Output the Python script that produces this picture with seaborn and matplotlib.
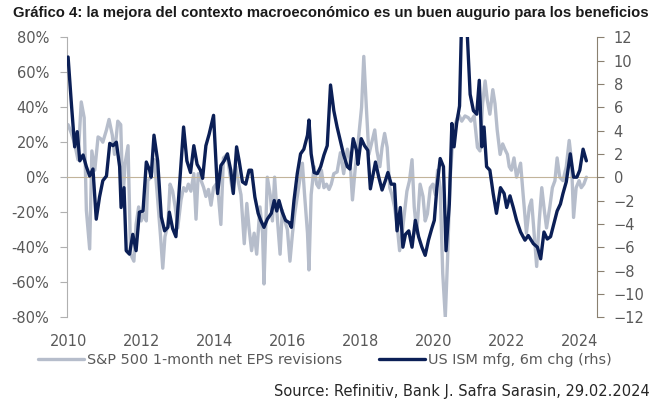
import numpy as np
import pandas as pd
import seaborn as sns
import matplotlib.pyplot as plt

# valeurs (années décimales)
eps_year = [2010.00, 2010.09, 2010.18, 2010.27, 2010.36, 2010.44, 2010.50, 2010.59, 2010.65, 2010.73,
            2010.82, 2010.89, 2010.95, 2011.05, 2011.12, 2011.21, 2011.27, 2011.36, 2011.44, 2011.50,
            2011.56, 2011.64, 2011.71, 2011.80, 2011.86, 2011.93, 2012.00, 2012.07, 2012.14, 2012.18,
            2012.27, 2012.36, 2012.44, 2012.53, 2012.59, 2012.65, 2012.73, 2012.79, 2012.86, 2012.93,
            2013.00, 2013.09, 2013.16, 2013.23, 2013.29, 2013.36, 2013.44, 2013.50, 2013.56, 2013.64,
            2013.71, 2013.77, 2013.84, 2013.91, 2013.98, 2014.05, 2014.11, 2014.18, 2014.25, 2014.35,
            2014.44, 2014.50, 2014.59, 2014.65, 2014.73, 2014.82, 2014.89, 2014.95, 2015.02, 2015.09,
            2015.16, 2015.25, 2015.32, 2015.36, 2015.45, 2015.53, 2015.59, 2015.65, 2015.73, 2015.80,
            2015.86, 2015.93, 2016.00, 2016.07, 2016.14, 2016.20, 2016.27, 2016.35, 2016.41, 2016.47,
            2016.55, 2016.59, 2016.65, 2016.73, 2016.80, 2016.86, 2016.93, 2017.00, 2017.07, 2017.14,
            2017.20, 2017.27, 2017.36, 2017.45, 2017.54, 2017.64, 2017.71, 2017.78, 2017.86, 2017.95,
            2018.03, 2018.09, 2018.16, 2018.23, 2018.32, 2018.39, 2018.45, 2018.53, 2018.59, 2018.66,
            2018.73, 2018.80, 2018.86, 2018.93, 2019.00, 2019.07, 2019.14, 2019.20, 2019.27, 2019.34,
            2019.41, 2019.47, 2019.54, 2019.63, 2019.71, 2019.77, 2019.83, 2019.91, 2019.98, 2020.05,
            2020.11, 2020.18, 2020.25, 2020.32, 2020.38, 2020.45, 2020.53, 2020.59, 2020.68, 2020.77,
            2020.86, 2020.95, 2021.02, 2021.11, 2021.20, 2021.27, 2021.34, 2021.41, 2021.47, 2021.54,
            2021.62, 2021.68, 2021.74, 2021.82, 2021.89, 2021.95, 2022.02, 2022.07, 2022.13, 2022.20,
            2022.27, 2022.38, 2022.45, 2022.54, 2022.62, 2022.68, 2022.74, 2022.82, 2022.89, 2022.96,
            2023.03, 2023.09, 2023.18, 2023.25, 2023.32, 2023.38, 2023.45, 2023.54, 2023.63, 2023.71,
            2023.77, 2023.83, 2023.90, 2023.98, 2024.04, 2024.11, 2024.18]
eps_rev = [30, 25, 19, 10, 43, 34, -19, -41, 15, 4,
           23, 22, 20, 27, 33, 24, 13, 32, 30, -13,
           8, 18, -44, -48, -27, -17, -25, -21, -25, -2,
           0, 10, -10, -34, -52, -34, -27, -4, -8, -17,
           -29, -13, -6, -8, -4, -8, 2, -24, 2, -2,
           -6, -11, -7, -16, -6, -4, -10, -27, 11, 13,
           0, -8, 6, -2, -10, -38, -15, -29, -42, -32,
           -44, -17, -32, -61, 0, -10, -25, 0, -25, -44,
           -19, -25, -30, -48, -32, -21, -11, 0, 8, -10,
           -32, -53, -10, 6, -4, -6, 4, -6, -4, -7,
           -4, 2, 3, 14, 2, 16, 11, -13, 6, 23,
           40, 69, 40, 13, 21, 27, 15, 6, 17, 25,
           17, -6, -10, -17, -27, -42, -32, -21, -8, -2,
           10, -17, -32, -4, -11, -25, -21, -6, -4, -10,
           4, -6, -55, -80, -48, -2, 23, 30, 36, 32,
           35, 34, 32, 35, 17, 15, 42, 55, 44, 36,
           50, 42, 27, 13, 19, 16, 13, 6, 4, 11,
           0, 8, -10, -32, -17, -13, -29, -51, -25, -6,
           -19, -29, -17, -6, -2, 11, 0, -2, 6, 21,
           10, -23, -6, -2, -6, -4, 0]

ism_year = [2010.00, 2010.09, 2010.18, 2010.25, 2010.32, 2010.41, 2010.50, 2010.59, 2010.68, 2010.77,
            2010.86, 2010.95, 2011.05, 2011.14, 2011.23, 2011.32, 2011.41, 2011.45, 2011.53, 2011.59,
            2011.68, 2011.77, 2011.86, 2011.95, 2012.05, 2012.14, 2012.23, 2012.27, 2012.35, 2012.45,
            2012.55, 2012.64, 2012.73, 2012.77, 2012.86, 2012.95, 2013.05, 2013.16, 2013.25, 2013.35,
            2013.44, 2013.53, 2013.62, 2013.68, 2013.77, 2013.86, 2013.98, 2014.09, 2014.18, 2014.27,
            2014.36, 2014.45, 2014.52, 2014.61, 2014.68, 2014.77, 2014.86, 2014.95, 2015.02, 2015.11,
            2015.20, 2015.27, 2015.36, 2015.45, 2015.56, 2015.64, 2015.71, 2015.77, 2015.86, 2015.95,
            2016.05, 2016.11, 2016.18, 2016.27, 2016.36, 2016.45, 2016.55, 2016.59, 2016.65, 2016.73,
            2016.82, 2016.91, 2017.00, 2017.09, 2017.18, 2017.27, 2017.36, 2017.45, 2017.54, 2017.64,
            2017.71, 2017.80, 2017.89, 2017.93, 2018.02, 2018.11, 2018.20, 2018.27, 2018.41, 2018.50,
            2018.59, 2018.68, 2018.75, 2018.84, 2018.93, 2019.00, 2019.09, 2019.16, 2019.23, 2019.32,
            2019.41, 2019.50, 2019.59, 2019.68, 2019.77, 2019.86, 2019.95, 2020.02, 2020.09, 2020.18,
            2020.27, 2020.34, 2020.43, 2020.50, 2020.56, 2020.63, 2020.71, 2020.77, 2020.83, 2020.91,
            2021.00, 2021.09, 2021.18, 2021.25, 2021.32, 2021.38, 2021.45, 2021.54, 2021.63, 2021.72,
            2021.83, 2021.93, 2022.00, 2022.09, 2022.18, 2022.27, 2022.38, 2022.50, 2022.59, 2022.73,
            2022.84, 2022.93, 2023.02, 2023.11, 2023.20, 2023.29, 2023.38, 2023.47, 2023.54, 2023.63,
            2023.74, 2023.83, 2023.92, 2024.00, 2024.09, 2024.18]
ism_chg = [10.3, 6.3, 2.6, 3.9, 1.4, 1.9, 0.9, 0.1, 0.7, -3.6,
           -1.7, -0.3, 0.1, 2.9, 2.7, 3.0, 0.9, -2.6, -0.9, -6.3,
           -6.6, -4.9, -6.3, -3.0, -2.9, 1.3, 0.6, 0.0, 3.6, 1.4,
           -3.4, -4.6, -4.3, -3.0, -4.4, -5.1, -0.6, 4.3, 1.4, 0.4,
           2.7, 1.1, 0.6, -0.1, 2.7, 3.7, 5.3, -1.4, 1.0, 1.4,
           2.0, 0.6, -1.4, 2.6, 1.4, -0.4, -0.6, 0.6, 0.6, -1.7,
           -3.1, -3.7, -4.3, -3.6, -3.1, -2.0, -2.9, -2.0, -3.0, -3.7,
           -3.9, -4.3, -2.0, 0.3, 2.0, 2.4, 3.6, 4.9, 2.0, 0.4,
           0.3, 0.9, 1.9, 2.7, 7.9, 5.7, 4.3, 3.1, 1.9, 0.9,
           0.7, 3.3, 2.3, 1.1, 3.3, 2.7, 2.3, -1.0, 1.3, 0.0,
           -1.1, -0.3, 0.4, -0.6, -0.6, -4.6, -2.6, -6.0, -4.9, -4.6,
           -6.0, -3.7, -5.1, -6.0, -6.7, -5.4, -4.4, -3.7, -0.9, 1.6,
           0.9, -6.3, -2.3, 4.6, 2.6, 4.6, 6.1, 14.0, 16.0, 13.0,
           7.1, 5.7, 5.4, 8.3, 2.6, 4.3, 0.9, 0.6, -1.4, -3.1,
           -0.9, -1.4, -2.6, -1.6, -2.6, -3.7, -4.7, -5.4, -5.0, -5.7,
           -6.0, -7.0, -4.7, -5.3, -5.1, -4.0, -2.9, -2.3, -1.4, -0.4,
           2.0, 0.0, 0.0, 0.6, 2.4, 1.4]

year_ticks = [2010, 2012, 2014, 2016, 2018, 2020, 2022, 2024]

eps_df = pd.DataFrame({'annee': eps_year, 'rev': eps_rev})
ism_df = pd.DataFrame({'annee': ism_year, 'chg': ism_chg})

sns.set_style('white')
plt.rcParams['font.family'] = ['DejaVu Sans']

gris = '#b6bdcb'
marine = '#0b1f56'
txt_col = '#595959'

fig = plt.figure(figsize=(6.7, 4.13), dpi=100)
ax = fig.add_axes([0.1, 0.232, 0.791, 0.678])
ax2 = ax.twinx()

sns.lineplot(data=eps_df, x='annee', y='rev', ax=ax, color=gris, lw=2.4,
             label='S&P 500 1-month net EPS revisions', legend=False)
sns.lineplot(data=ism_df, x='annee', y='chg', ax=ax2, color=marine, lw=2.4,
             label='US ISM mfg, 6m chg (rhs)', legend=False)

ax.set_xlim(2009.97, 2024.47)
ax.set_ylim(-80, 80)
ax2.set_ylim(-12, 12)
ax.set_yticks(range(-80, 81, 20))
ax.set_yticklabels([f'{v}%' for v in range(-80, 81, 20)])
ax2.set_yticks(range(-12, 13, 2))

for a in (ax, ax2):
    for s in a.spines.values():
        s.set_visible(False)
    a.set_xlabel('')
    a.set_ylabel('')

ax.spines['left'].set_visible(True)
ax.spines['left'].set_color('#b0b0b0')
ax.spines['bottom'].set_visible(True)
ax.spines['bottom'].set_position(('data', 0))
ax.spines['bottom'].set_color('#c2b49a')
ax2.spines['right'].set_visible(True)
ax2.spines['right'].set_color('#8a8070')

ax.set_xticks(year_ticks)
ax.tick_params(axis='x', direction='out', length=3, color='#c2b49a', labelbottom=False)
ax.tick_params(axis='y', left=True, direction='out', length=5, color='#b0b0b0',
               labelsize=10.5, labelcolor=txt_col, pad=8)
ax2.tick_params(axis='y', right=True, direction='out', length=5, color='#8a8070',
                labelsize=10.5, labelcolor=txt_col, pad=7)

sec = ax.secondary_xaxis('bottom')
sec.set_xticks(year_ticks)
sec.spines['bottom'].set_visible(False)
sec.tick_params(length=0, labelsize=10.5, labelcolor=txt_col, pad=12)

h1, l1 = ax.get_legend_handles_labels()
h2, l2 = ax2.get_legend_handles_labels()
fig.legend(h1 + h2, l1 + l2, loc='center left', bbox_to_anchor=(0.057, 0.128),
           ncol=2, frameon=False, fontsize=10.4, handlelength=3.2, handletextpad=0.2,
           columnspacing=2.5, borderaxespad=0, borderpad=0, labelcolor=txt_col)

fig.text(0.02, 0.968, 'Gráfico 4: la mejora del contexto macroeconómico es un buen augurio para los beneficios',
         fontsize=10.75, fontweight='bold', color='#1a1a1a', va='center',
         family=['Liberation Sans', 'DejaVu Sans'])
fig.text(0.97, 0.053, 'Source: Refinitiv, Bank J. Safra Sarasin, 29.02.2024',
         fontsize=10.5, color='#262626', ha='right', va='center')

fig.savefig('out.png', dpi=100)
